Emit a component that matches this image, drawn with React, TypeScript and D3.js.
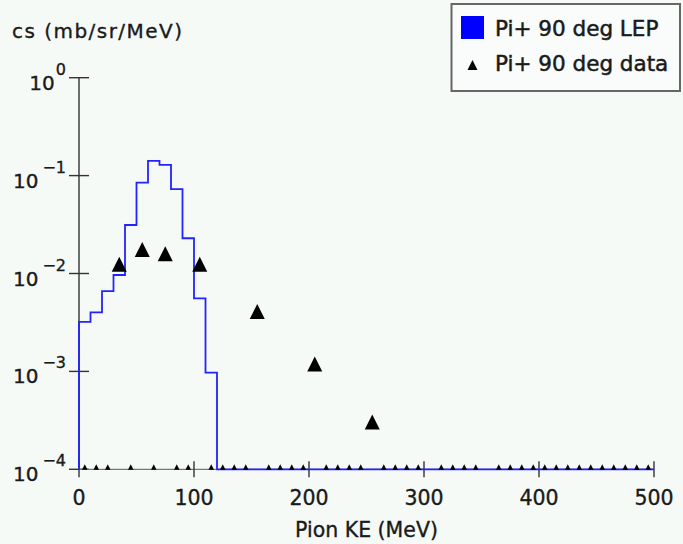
import React from "react";
import * as d3 from "d3";

// ---- data ----
const binEdges = [0,10,20,30,40,50,60,70,80,90,100,110,120,130,140,150,160,170,180,190,200,210,220,230,240,250,260,270,280,290,300,310,320,330,340,350,360,370,380,390,400,410,420,430,440,450,460,470,480,490,500];
const lepCs = [0.00321,0.00401,0.00662,0.00965,0.0313,0.0849,0.1416,0.1288,0.0727,0.0229,0.00557,0.00097,
  0,0,0,0,0,0,0,0,0,0,0,0,0,0,0,0,0,0,0,0,0,0,0,0,0,0,0,0,0,0,0,0,0,0,0,0,0,0];
const dataKE = [5,15,25,35,45,55,65,75,85,95,105,115,125,135,145,155,165,175,185,195,205,215,225,235,245,255,265,275,285,295,315,325,335,345,365,375,385,395,405,415,425,435,445,455,465,475,485,495];
const dataCs = [0,0,0,0.0124,0,0.0176,0,0.0159,0,0,0.0124,0,0,0,0,0.00408,0,0,0,0,0.00119,0,0,0,0,0.000304,0,0,0,0,0,0,0,0,0,0,0,0,0,0,0,0,0,0,0,0,0,0];
const xTicks = [0,100,200,300,400,500];
const yTicks = [1, 0.1, 0.01, 0.001, 0.0001];
const yTickExp = ["0", "\u22121", "\u22122", "\u22123", "\u22124"];
const seriesNames = ["Pi+ 90 deg LEP", "Pi+ 90 deg data"];
const xTitle = "Pion KE (MeV)";
const yTitle = "cs (mb/sr/MeV)";

const W = 683, H = 544;
const FONT = "'DejaVu Sans', sans-serif";
const BG = "#f6faf7";
const TXT = "#1a1a1a";

export default function App() {
  const x = d3.scaleLinear().domain([0, 500]).range([79, 654]);
  const yMin = 1e-4;
  const y = d3.scaleLog().domain([yMin, 1]).range([469.3, 77.7]);
  const yBottom = y(yMin);
  const yv = (v: number) => (v > yMin ? y(v) : yBottom);

  // histogram step path
  let d = `M${x(binEdges[0])},${yBottom}`;
  lepCs.forEach((v, i) => {
    d += `L${x(binEdges[i])},${yv(v)}L${x(binEdges[i + 1])},${yv(v)}`;
  });
  d += `L${x(binEdges[binEdges.length - 1])},${yBottom}`;

  const triW = 15, triH = 15;
  const tri = (cx: number, cy: number, w: number, h: number) =>
    `M${cx},${cy - h / 2}L${cx + w / 2},${cy + h / 2}L${cx - w / 2},${cy + h / 2}Z`;

  const txtStyle = { fill: TXT, stroke: TXT, strokeWidth: 0.35 };

  return (
    <svg width={W} height={H} style={{ position: "absolute", left: 0, top: 0, background: BG }} fontFamily={FONT}>
      <defs>
        <clipPath id="plotclip">
          <rect x={0} y={0} width={W} height={yBottom + 0.5} />
        </clipPath>
      </defs>
      <rect x={0} y={0} width={W} height={H} fill={BG} />

      {/* y axis */}
      <line x1={x(0)} x2={x(0)} y1={y(1)} y2={yBottom} stroke="#4a4a4a" strokeWidth={1.6} />
      {yTicks.map((t, i) => (
        <g key={t}>
          <line x1={x(0) - 10} x2={x(0) + 10} y1={y(t)} y2={y(t)} stroke="#333" strokeWidth={1.4} />
          <text x={66} y={y(t) + 12} textAnchor="end" fontSize={20} {...txtStyle}>
            10
            <tspan dx={i === 0 ? 1 : 4} dy={-15} fontSize={16}>{yTickExp[i]}</tspan>
          </text>
        </g>
      ))}

      {/* x axis */}
      <line x1={x(0)} x2={x(500)} y1={yBottom} y2={yBottom} stroke="#777" strokeWidth={1.2} />
      {xTicks.map((t) => (
        <g key={t}>
          <line x1={x(t)} x2={x(t)} y1={yBottom - 8} y2={yBottom + 8} stroke="#333" strokeWidth={1.4} />
          <text x={x(t)} y={505} textAnchor="middle" fontSize={20.5} {...txtStyle}>{t}</text>
        </g>
      ))}

      {/* histogram */}
      <path d={d} fill="none" stroke="#2323ff" strokeWidth={1.8} />

      {/* data points */}
      <g clipPath="url(#plotclip)">
        {dataKE.map((k, i) => {
          const v = dataCs[i];
          const cy = v > yMin ? y(v) : yBottom + triH / 2 - 5;
          return <path key={k} d={tri(x(k), cy, triW, triH)} fill="#000" />;
        })}
      </g>

      {/* titles */}
      <text x={12} y={38} fontSize={20} textLength={170} lengthAdjust="spacing" {...txtStyle}>{yTitle}</text>
      <text x={(x(0) + x(500)) / 2} y={537} textAnchor="middle" fontSize={20.5} {...txtStyle}>{xTitle}</text>

      {/* legend */}
      <rect x={451.5} y={4} width={228.5} height={87} fill="#f9fcfa" stroke="#666" strokeWidth={2} />
      <rect x={461} y={16} width={23} height={23} fill="#0000ff" />
      <text x={495} y={36} fontSize={21.5} {...txtStyle} strokeWidth={0.5}>{seriesNames[0]}</text>
      <path d={tri(472.5, 65, 10, 10)} fill="#000" />
      <text x={495} y={71} fontSize={21.5} {...txtStyle} strokeWidth={0.5}>{seriesNames[1]}</text>
    </svg>
  );
}
